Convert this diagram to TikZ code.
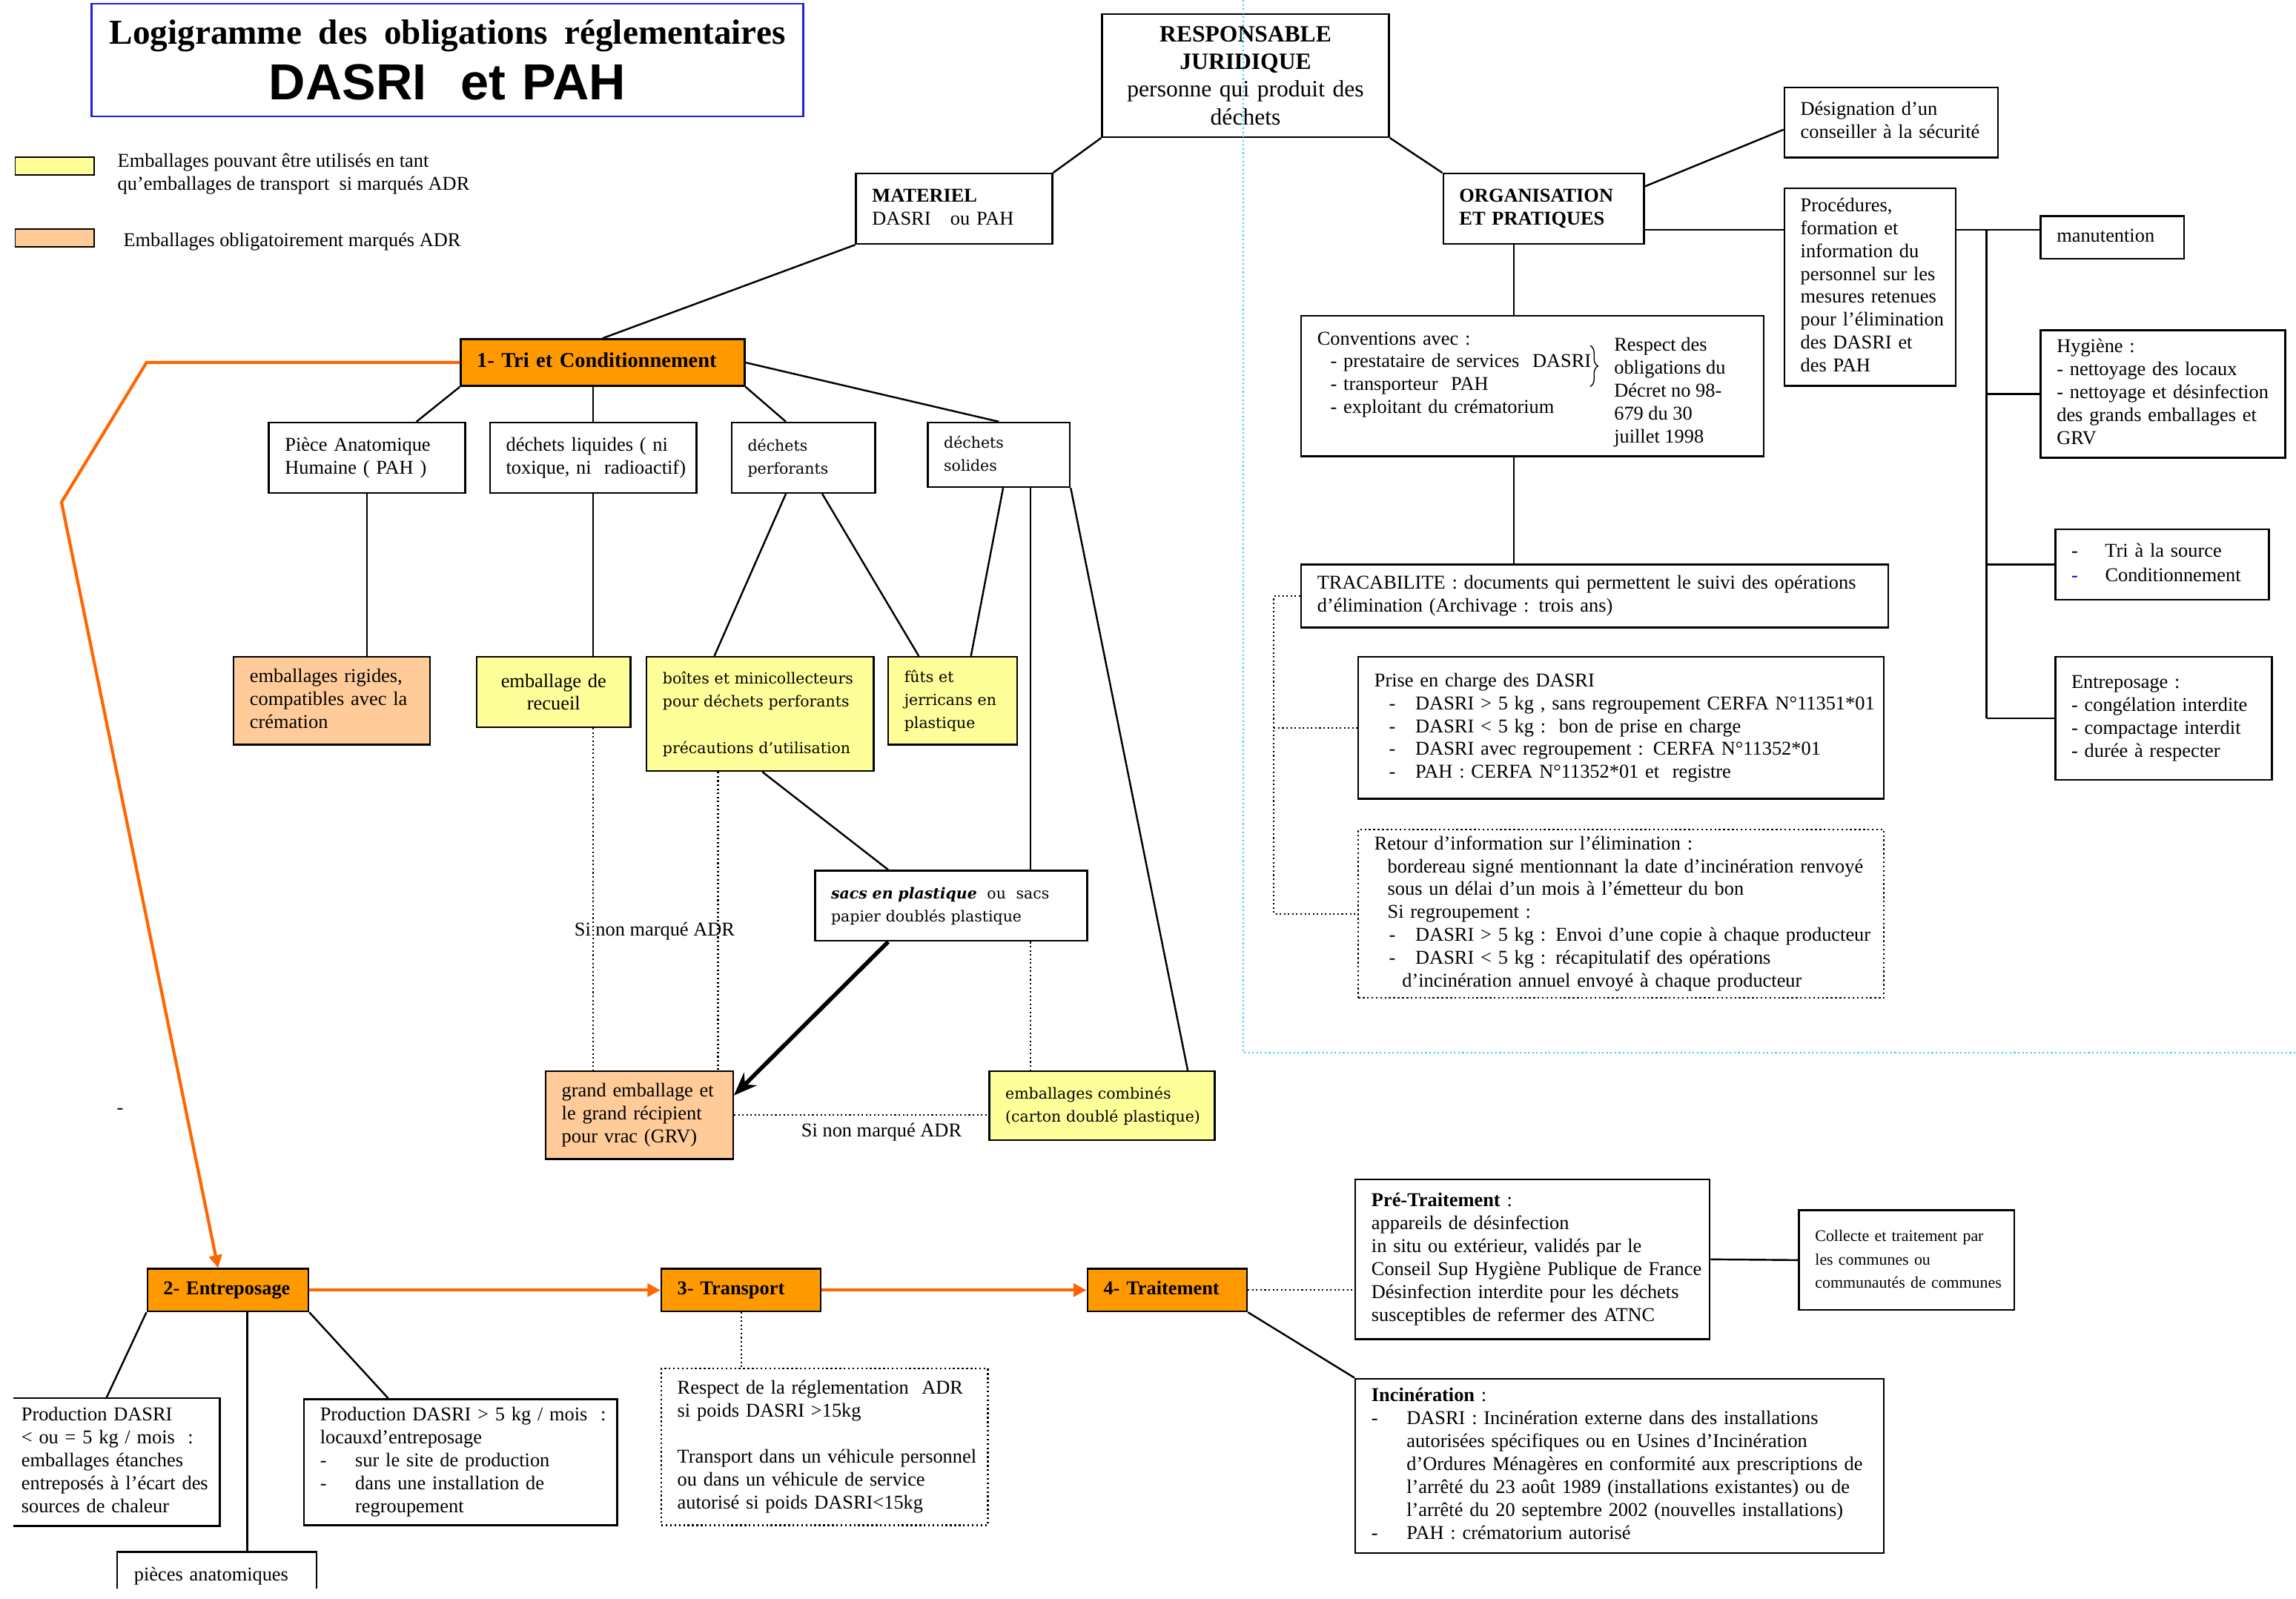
\documentclass[tikz,border=0pt]{standalone}
\usepackage{fontspec}
\setmainfont{Liberation Serif}
\setsansfont{Liberation Sans}
\newfontfamily\widefont{DejaVu Serif}
\usetikzlibrary{positioning, calc, arrows.meta, decorations.pathreplacing}
\definecolor{jaune}{HTML}{FFFF99}
\definecolor{peche}{HTML}{FFCC99}
\definecolor{orangebox}{HTML}{FF9900}
\definecolor{orangeflux}{HTML}{FF6600}
\definecolor{bleuclair}{HTML}{33CCFF}
\definecolor{bleutitre}{HTML}{2020E0}
\setlength{\parindent}{0pt}
\newcommand{\tiret}[1]{\makebox[#1][l]{-}}
\newcommand{\lignes}[1]{\begin{tabular}{@{}l@{}}#1\end{tabular}}

\begin{document}
\begin{tikzpicture}[x=0.02cm, y=-0.02cm,
        boite/.style={draw, line width=0.7pt, rectangle, anchor=north west, inner xsep=0.22cm, inner ysep=0pt,
            align=left, font=\fontsize{7.6}{8.9}\selectfont},
        serifelarge/.style={font=\widefont\fontsize{5.9}{9}\selectfont},
        etape/.style={boite, fill=orangebox, font=\bfseries\fontsize{7.6}{8.9}\selectfont},
        texte/.style={inner sep=0pt, align=left, font=\fontsize{7.6}{8.9}\selectfont},
        lien/.style={line width=0.7pt},
        pointille/.style={line width=0.6pt, densely dotted},
        flux/.style={orangeflux, line width=1.2pt, -{Triangle[length=5pt, width=5pt]}}]
    \useasboundingbox (0,0) rectangle (1568,1092);

    % titre et legende
    \node[boite, draw=bleutitre, align=center, inner xsep=0.05cm, text width=9.62cm, minimum height=1.54cm,
        font=\fontsize{19.7}{21.5}\selectfont] (titre) at (62,2)
        {\mbox{\bfseries\fontsize{13.6}{16}\selectfont Logigramme des obligations réglementaires}\\\mbox{\sffamily\bfseries DASRI\ \ et PAH}};
    \node[draw, line width=0.5pt, fill=jaune, anchor=north west, inner sep=0pt, minimum width=1.08cm, minimum height=0.24cm] (leg-jaune) at (10,107) {};
    \node[texte, anchor=west] (leg-jaune-txt) at (80,119) {Emballages pouvant être utilisés en tant\\qu’emballages de transport\ \ si marqués ADR};
    \node[draw, line width=0.5pt, fill=peche, anchor=north west, inner sep=0pt, minimum width=1.08cm, minimum height=0.24cm] (leg-peche) at (10,156) {};
    \node[texte, anchor=west] (leg-peche-txt) at (84,165) {Emballages obligatoirement marqués ADR};

    % responsable et branches
    \node[boite, align=center, text width=3.48cm, minimum height=1.68cm, font=\fontsize{9.1}{10.8}\selectfont] (resp) at (752,9)
        {\textbf{RESPONSABLE}\\\textbf{JURIDIQUE}\\personne qui produit des\\déchets};
    \node[boite, text width=2.24cm, minimum height=0.96cm] (materiel) at (584,118) {\lignes{\textbf{MATERIEL}\\DASRI\quad ou PAH}};
    \node[boite, text width=2.30cm, minimum height=0.96cm] (org) at (985,118) {\lignes{\textbf{ORGANISATION}\\\textbf{ET PRATIQUES}}};
    \node[boite, text width=2.48cm, minimum height=0.96cm] (desig) at (1218,59) {\lignes{Désignation d’un\\conseiller à la sécurité}};
    \node[boite, text width=1.90cm, minimum height=2.70cm] (proc) at (1218,128)
        {\lignes{Procédures,\\formation et\\information du\\personnel sur les\\mesures retenues\\pour l'élimination\\des DASRI et\\des PAH}};
    \node[boite, text width=1.52cm, minimum height=0.58cm] (manut) at (1393,147) {\lignes{manutention}};
    \node[boite, text width=2.90cm, minimum height=1.74cm] (hyg) at (1393,225)
        {\lignes{Hygiène :\\- nettoyage des locaux\\- nettoyage et désinfection\\des grands emballages et\\GRV}};
    \node[boite, text width=2.48cm, minimum height=0.96cm] (trisrc) at (1403,361)
        {\lignes{\tiret{0.46cm}Tri à la source\\[0.6pt]\textcolor{blue}{\tiret{0.46cm}}Conditionnement}};
    \node[boite, text width=2.52cm, minimum height=1.68cm] (entr) at (1403,448)
        {\lignes{Entreposage :\\- congélation interdite\\- compactage interdit\\- durée à respecter}};
    \node[boite, text width=5.88cm, minimum height=1.92cm] (conv) at (888,215)
        {\lignes{Conventions avec :\\\hspace*{0.18cm}- prestataire de services\ \ DASRI\\\hspace*{0.18cm}- transporteur\ \ PAH\\\hspace*{0.18cm}- exploitant du crématorium\\\mbox{}}};
    \node[texte, anchor=west] (conv-note) at (1102,268) {\lignes{Respect des\\obligations du\\Décret no 98-\\679 du 30\\juillet 1998}};
    \draw[decorate, decoration={brace, amplitude=3pt}] (1086,236) -- (1086,264);
    \node[boite, text width=7.58cm, minimum height=0.86cm] (trac) at (888,385)
        {\lignes{TRACABILITE : documents qui permettent le suivi des opérations\\d’élimination (Archivage : trois ans)}};
    \node[boite, text width=6.74cm, minimum height=1.94cm] (prise) at (927,448)
        {\lignes{Prise en charge des DASRI\\
        \hspace*{0.2cm}\tiret{0.36cm}DASRI > 5 kg , sans regroupement CERFA N°11351*01\\
        \hspace*{0.2cm}\tiret{0.36cm}DASRI < 5 kg :\ \ bon de prise en charge\\
        \hspace*{0.2cm}\tiret{0.36cm}DASRI avec regroupement : CERFA N°11352*01\\
        \hspace*{0.2cm}\tiret{0.36cm}PAH : CERFA N°11352*01 et\ \ registre}};
    \node[boite, densely dotted, text width=6.74cm, minimum height=2.30cm] (retour) at (927,566)
        {\lignes{Retour d'information sur l'élimination :\\
        \hspace*{0.18cm}bordereau signé mentionnant la date d'incinération renvoyé\\
        \hspace*{0.18cm}sous un délai d'un mois à l'émetteur du bon\\
        \hspace*{0.18cm}Si regroupement :\\
        \hspace*{0.2cm}\tiret{0.36cm}DASRI > 5 kg : Envoi d'une copie à chaque producteur\\
        \hspace*{0.2cm}\tiret{0.36cm}DASRI < 5 kg : récapitulatif des opérations\\
        \hspace*{0.38cm}d'incinération annuel envoyé à chaque producteur}};

    % materiel : tri et conditionnement
    \node[etape, text width=3.44cm, minimum height=0.64cm, font=\bfseries\fontsize{8.2}{9}\selectfont] (tricond) at (314,231) {\lignes{1- Tri et Conditionnement}};
    \node[boite, text width=2.24cm, minimum height=0.96cm] (pah) at (183,288) {\lignes{Pièce Anatomique\\Humaine ( PAH )}};
    \node[boite, text width=2.38cm, minimum height=0.96cm] (liq) at (334,288) {\lignes{déchets liquides ( ni\\toxique, ni\ \ radioactif)}};
    \node[boite, serifelarge, text width=1.52cm, minimum height=0.96cm] (perf) at (499,288) {\lignes{déchets\\perforants}};
    \node[boite, serifelarge, text width=1.50cm, minimum height=0.88cm] (sol) at (633,288) {\lignes{déchets\\solides}};
    \node[boite, fill=peche, text width=2.24cm, minimum height=1.2cm] (rig) at (159,448) {\lignes{emballages rigides,\\compatibles avec la\\crémation}};
    \node[boite, fill=jaune, align=center, text width=1.66cm, minimum height=0.96cm] (recueil) at (325,448) {emballage de\\recueil};
    \node[boite, fill=jaune, serifelarge, text width=2.66cm, minimum height=1.56cm] (boites) at (441,448)
        {\lignes{boîtes et minicollecteurs\\pour déchets perforants\\\mbox{}\\précautions d’utilisation}};
    \node[boite, fill=jaune, serifelarge, text width=1.32cm, minimum height=1.2cm] (futs) at (606,448) {\lignes{fûts et\\jerricans en\\plastique}};
    \node[boite, serifelarge, text width=3.28cm, minimum height=0.96cm] (sacs) at (556,594)
        {\lignes{\textbf{\textit{sacs en plastique}}\ \ ou\ \ sacs\\papier doublés plastique}};
    \node[boite, fill=peche, text width=2.12cm, minimum height=1.2cm] (grv) at (372,731) {\lignes{grand emballage et\\le grand récipient\\pour vrac (GRV)}};
    \node[boite, fill=jaune, serifelarge, text width=2.64cm, minimum height=0.94cm] (comb) at (675,731) {\lignes{emballages combinés\\(carton doublé plastique)}};
    \node[texte] (adr-haut) at (447,636) {Si non marqué ADR};
    \node[texte] (adr-bas) at (602,773) {Si non marqué ADR};
    \node[texte] (tiret-seul) at (82,759) {-};

    % etapes 2 a 4
    \node[etape, text width=1.76cm, minimum height=0.58cm] (entrep) at (100,866) {\lignes{2- Entreposage}};
    \node[etape, text width=1.74cm, minimum height=0.58cm] (transp) at (451,866) {\lignes{3- Transport}};
    \node[etape, text width=1.74cm, minimum height=0.58cm] (trait) at (742,866) {\lignes{4- Traitement}};
    \node[boite, draw=none, inner xsep=0.1cm, text width=2.6cm, minimum height=1.72cm] (prodmin) at (9,955)
        {\lignes{Production DASRI\\< ou = 5 kg / mois\ \ :\\emballages étanches\\entreposés à l'écart des\\sources de chaleur}};
    \node[boite, draw=none, text width=2.26cm, minimum height=0.64cm] (pieces) at (80,1060) {\lignes{pièces anatomiques}};
    \node[boite, text width=3.84cm, minimum height=1.72cm] (prodmax) at (207,955)
        {\lignes{Production DASRI > 5 kg / mois\ \ :\\locauxd’entreposage\\\tiret{0.48cm}sur le site de production\\\tiret{0.48cm}dans une installation de\\\hspace*{0.48cm}regroupement}};
    \node[boite, densely dotted, text width=4.02cm, minimum height=2.14cm] (transpdet) at (451,934)
        {\lignes{Respect de la réglementation\ \ ADR\\si poids DASRI >15kg\\\mbox{}\\Transport dans un véhicule personnel\\ou dans un véhicule de service\\autorisé si poids DASRI<15kg}};
    \node[boite, text width=4.40cm, minimum height=2.18cm] (pret) at (925,805)
        {\lignes{\textbf{Pré-Traitement} :\\appareils de désinfection\\in situ ou extérieur, validés par le\\Conseil Sup Hygiène Publique de France\\Désinfection interdite pour les déchets\\susceptibles de refermer des ATNC}};
    \node[boite, text width=2.50cm, minimum height=1.36cm, font=\fontsize{6.3}{9}\selectfont] (collecte) at (1228,826)
        {\lignes{Collecte et traitement par\\les communes ou\\communautés de communes}};
    \node[boite, text width=6.78cm, minimum height=2.38cm] (incin) at (925,941)
        {\lignes{\textbf{Incinération} :\\
        \tiret{0.48cm}DASRI : Incinération externe dans des installations\\
        \hspace*{0.48cm}autorisées spécifiques ou en Usines d’Incinération\\
        \hspace*{0.48cm}d’Ordures Ménagères en conformité aux prescriptions de\\
        \hspace*{0.48cm}l’arrêté du 23 août 1989 (installations existantes) ou de\\
        \hspace*{0.48cm}l’arrêté du 20 septembre 2002 (nouvelles installations)\\
        \tiret{0.48cm}PAH : crématorium autorisé}};
    \draw[line width=0.7pt] (prodmin.north west) -- (prodmin.north east) -- (prodmin.south east) -- (prodmin.south west);
    \draw[line width=0.7pt] ([yshift=0.16cm]pieces.south west) |- (pieces.north east) -- ([yshift=0.16cm]pieces.south east);

    % separation bleue
    \draw[bleuclair, densely dotted, line width=0.6pt] (849,0) -- (849,719) -- (1568,719);

    % liaisons organisation
    \draw[lien] (resp.south west) -- (materiel.north east);
    \draw[lien] (resp.south east) -- (org.north west);
    \draw[lien] ($(org.north east)!0.19!(org.south east)$) -- ($(desig.north west)!0.6!(desig.south west)$);
    \coordinate (org-p) at ($(org.north east)!0.79!(org.south east)$);
    \draw[lien] (org-p) -- (org-p -| proc.west);
    \draw[lien] (org-p -| proc.east) -- (org-p -| manut.west);
    \coordinate (bus) at ($(proc.east)!0.36!(manut.west)$);
    \draw[lien] (bus |- org-p) -- (bus |- entr.west);
    \draw[lien] (bus |- hyg.west) -- (hyg.west);
    \draw[lien] (bus |- trisrc.west) -- (trisrc.west);
    \draw[lien] (bus |- entr.west) -- (entr.west);
    \coordinate (axe) at ($(conv.north west)!0.46!(conv.north east)$);
    \draw[lien] (axe |- org.south) -- (axe);
    \draw[lien] (axe |- conv.south) -- (axe |- trac.north);
    \coordinate (crochet) at ([xshift=-0.36cm]trac.west);
    \draw[pointille] (trac.west) -- (crochet) |- (retour.west);
    \draw[pointille] (crochet |- prise.west) -- (prise.west);

    % liaisons materiel
    \draw[lien] (materiel.south west) -- (tricond.north);
    \draw[lien] (tricond.south west) -- ($(pah.north west)!0.75!(pah.north east)$);
    \draw[lien] (tricond.south -| liq.north) -- (liq.north);
    \draw[lien] (tricond.south east) -- ($(perf.north west)!0.38!(perf.north east)$);
    \draw[lien] (tricond.east) -- (sol.north);
    \draw[lien] (pah.south) -- (pah.south |- rig.north);
    \draw[lien] (liq.south) -- (liq.south |- recueil.north);
    \draw[lien] ($(perf.south west)!0.38!(perf.south east)$) -- ($(boites.north west)!0.3!(boites.north east)$);
    \draw[lien] ($(perf.south west)!0.63!(perf.south east)$) -- ($(futs.north west)!0.24!(futs.north east)$);
    \draw[lien] ($(sol.south west)!0.53!(sol.south east)$) -- ($(futs.north west)!0.64!(futs.north east)$);
    \coordinate (sol-p) at ($(sol.south west)!0.72!(sol.south east)$);
    \draw[lien] (sol-p) -- (sol-p |- sacs.north);
    \draw[pointille] (sol-p |- sacs.south) -- (sol-p |- comb.north);
    \draw[lien] (sol.south east) -- ($(comb.north west)!0.877!(comb.north east)$);
    \draw[lien] ($(boites.south west)!0.51!(boites.south east)$) -- ($(sacs.north west)!0.27!(sacs.north east)$);
    \draw[line width=1.6pt, -{Stealth[length=9pt, width=7pt]}] ($(sacs.south west)!0.27!(sacs.south east)$) -- ($(grv.north east)!0.28!(grv.south east)$);
    \draw[pointille] (liq.south |- recueil.south) -- (liq.south |- grv.north);
    \coordinate (boites-p) at ($(boites.south west)!0.316!(boites.south east)$);
    \draw[pointille] (boites-p) -- (boites-p |- grv.north);
    \draw[pointille] (grv.east) -- (grv.east -| comb.west);

    % flux des etapes
    \coordinate (coude1) at ([xshift=-4.28cm]tricond.west);
    \coordinate (coude2) at (42,343);
    \draw[flux] (tricond.west) -- (coude1) -- (coude2) -- ($(entrep.north west)!0.44!(entrep.north east)$);
    \draw[flux] (entrep.east) -- (transp.west);
    \draw[flux] (transp.east) -- (trait.west);

    % liaisons du bas
    \draw[lien] (entrep.south west) -- ($(prodmin.north west)!0.45!(prodmin.north east)$);
    \coordinate (entrep-p) at ($(entrep.south west)!0.62!(entrep.south east)$);
    \draw[lien] (entrep-p) -- (entrep-p |- pieces.north);
    \draw[lien] (entrep.south east) -- ($(prodmax.north west)!0.27!(prodmax.north east)$);
    \draw[pointille] (transp.south) -- (transp.south |- transpdet.north);
    \draw[pointille] (trait.east) -- (trait.east -| pret.west);
    \draw[lien] (trait.south east) -- (incin.north west);
    \draw[lien] (pret.east) -- (collecte.west);
\end{tikzpicture}
\end{document}
